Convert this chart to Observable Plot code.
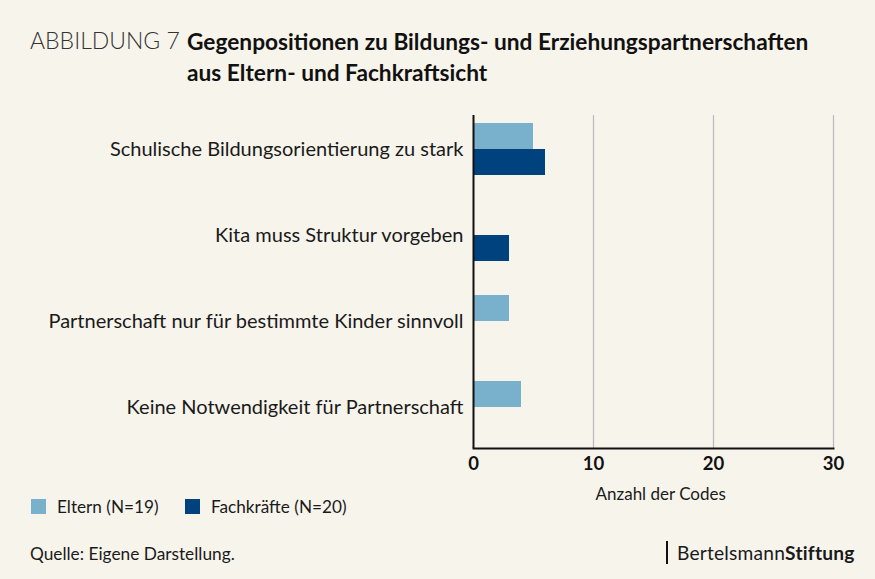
<!DOCTYPE html>
<html>
<head>
<meta charset="utf-8">
<script src="https://cdn.jsdelivr.net/npm/d3@7"></script>
<script src="https://cdn.jsdelivr.net/npm/@observablehq/plot@0.6"></script>
<style>
  html, body { margin: 0; padding: 0; background: #f7f4ec; }
  #page { position: relative; width: 875px; height: 579px; background: #f7f4ec; font-family: Lato, "Open Sans", sans-serif; color: #1a1a1a; overflow: hidden; }
  .abs { position: absolute; white-space: nowrap; }
  #kicker { left: 30px; top: 26px; font-size: 23px; font-weight: 300; color: #333; }
  #title { left: 187px; top: 26px; font-size: 22.7px; font-weight: 700; line-height: 31px; color: #111; }
  #chart { position: absolute; left: 0; top: 95px; }
  .leg { top: 496px; font-size: 17.2px; display: flex; align-items: center; }
  .sw { width: 15px; height: 15px; display: inline-block; margin-right: 11px; }
  #caption { left: 30px; top: 543px; font-size: 17.3px; }
  #logo { left: 666px; top: 541px; font-size: 19.2px; border-left: 2px solid #111; padding-left: 9px; line-height: 23px; letter-spacing: 0.2px; }
</style>
</head>
<body>
<div id="page">
  <div class="abs" id="kicker">ABBILDUNG 7</div>
  <div class="abs" id="title">Gegenpositionen zu Bildungs- und Erziehungspartnerschaften<br>aus Eltern- und Fachkraftsicht</div>
  <div id="chart"></div>
  <div class="abs leg" style="left:31px"><span class="sw" style="background:#79b0cb"></span>Eltern (N=19)</div>
  <div class="abs leg" style="left:185px"><span class="sw" style="background:#00427e"></span>Fachkräfte (N=20)</div>
  <div class="abs" id="caption">Quelle: Eigene Darstellung.</div>
  <div class="abs" id="logo">Bertelsmann<b>Stiftung</b></div>
</div>
<script>
const categories = [
  "Schulische Bildungsorientierung zu stark",
  "Kita muss Struktur vorgeben",
  "Partnerschaft nur für bestimmte Kinder sinnvoll",
  "Keine Notwendigkeit für Partnerschaft"
];
const elternValues = [5, 0, 3, 4];
const fachkraefteValues = [6, 3, 0, 0];
const xTicks = [0, 10, 20, 30];
const seriesNames = ["Eltern (N=19)", "Fachkräfte (N=20)"];
const colors = ["#79b0cb", "#00427e"];

const eltern = categories.map((c, i) => ({category: c, value: elternValues[i]})).filter(d => d.value > 0);
const fach = categories.map((c, i) => ({category: c, value: fachkraefteValues[i]})).filter(d => d.value > 0);

const chart = Plot.plot({
  width: 875,
  height: 420,
  marginTop: 20,
  marginBottom: 67,
  marginLeft: 473,
  marginRight: 42,
  style: {background: "transparent", fontFamily: "Lato, 'Open Sans', sans-serif", color: "#1a1a1a"},
  x: {domain: [0, 30], ticks: xTicks},
  y: {domain: categories, paddingInner: 0.397, paddingOuter: 0.1275, align: 0.36},
  marks: [
    Plot.ruleX(xTicks.slice(1), {stroke: "#b9b9b9", strokeWidth: 1.2}),
    Plot.barX(eltern, {x: "value", y: "category", fill: colors[0], insetBottom: 26}),
    Plot.barX(fach, {x: "value", y: "category", fill: colors[1], insetTop: 26}),
    Plot.ruleX([0], {stroke: "#111", strokeWidth: 2}),
    Plot.frame({anchor: "bottom", stroke: "#111", strokeWidth: 2}),
    Plot.axisY({tickSize: 0, tickPadding: 10, fontSize: 20, label: null, fill: "#1a1a1a"}),
    Plot.axisX({ticks: xTicks, tickSize: 0, tickPadding: 8, fontSize: 18.5, fontWeight: 700, label: null, fill: "#111"}),
    Plot.text(["Anzahl der Codes"], {frameAnchor: "bottom", dy: 51, x: 15.6, fontSize: 17, fill: "#1a1a1a"})
  ]
});
document.getElementById("chart").appendChild(chart);
</script>
</body>
</html>
